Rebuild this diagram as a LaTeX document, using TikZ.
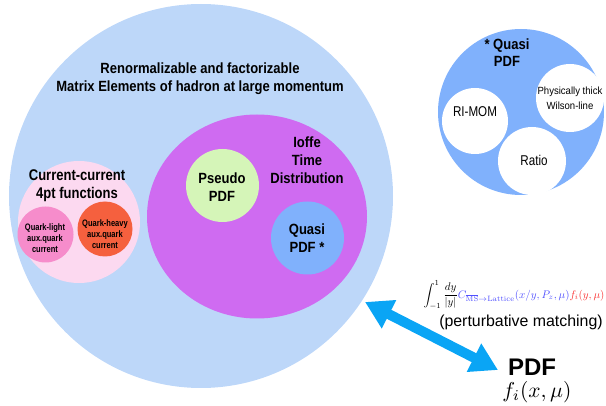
\documentclass[tikz,border=0pt]{standalone}
\usepackage[no-math]{fontspec}
\setmainfont{Liberation Sans}
\newfontfamily\condA[FakeStretch=0.88]{Liberation Sans}
\newfontfamily\condB[FakeStretch=0.84]{Liberation Sans}
\newfontfamily\condC[FakeStretch=0.80]{Liberation Sans}
\newfontfamily\condD[FakeStretch=0.82]{Liberation Sans}
\newfontfamily\condE[FakeStretch=0.92]{Liberation Sans}
\usetikzlibrary{arrows.meta,shapes.geometric}
\definecolor{bigblue}{RGB}{189,215,249}
\definecolor{purp}{RGB}{207,107,241}
\definecolor{pgreen}{RGB}{213,245,184}
\definecolor{qblue}{RGB}{128,177,252}
\definecolor{lpink}{RGB}{252,217,240}
\definecolor{qlpink}{RGB}{246,140,203}
\definecolor{qhred}{RGB}{245,96,62}
\definecolor{arrblue}{RGB}{10,165,245}
\definecolor{fblue}{RGB}{80,80,255}
\definecolor{fred}{RGB}{250,50,50}
\tikzset{
  disk/.style={circle, inner sep=0pt, draw=none},
  blbl/.style={font=\condA\fontsize{14.8}{18}\selectfont\bfseries, align=center, inner sep=0pt},
  slbl/.style={font=\condC\fontsize{9.4}{11}\selectfont\bfseries, align=center, inner sep=0pt},
  rlbl/.style={font=\condD\fontsize{14.2}{14}\selectfont, align=center, inner sep=0pt},
}
\begin{document}
\begin{tikzpicture}[x=1pt,y=-1pt]
\useasboundingbox (0,0) rectangle (606,406);
% big circle
\node[disk, fill=bigblue, minimum size=384pt] (big) at (201,196) {};
\node[blbl] (title) at (200,79) {Renormalizable and factorizable\\Matrix Elements of hadron at large momentum};
% current-current
\node[disk, fill=lpink, minimum size=122pt] (cc) at (79,222) {};
\node[blbl, font=\condB\fontsize{15.5}{18}\selectfont\bfseries] (cctxt) at (77,186) {Current-current\\4pt functions};
\node[disk, fill=qlpink, minimum size=56pt] (ql) at (45.5,234.5) {};
\node[disk, fill=qhred, minimum size=55pt] (qh) at (105,229) {};
\node[slbl] (qltxt) at (45,238) {Quark-light\\aux.quark\\current};
\node[slbl] (qhtxt) at (105,234) {Quark-heavy\\aux.quark\\current};
% Ioffe
\node[ellipse, inner sep=0pt, fill=purp, minimum width=220pt, minimum height=204pt] (itd) at (257,216.5) {};
\node[blbl] (itdtxt) at (307,160) {Ioffe\\Time\\Distribution};
\node[disk, fill=pgreen, minimum size=73pt] (pseudo) at (222.5,185.5) {};
\node[blbl] (pseudotxt) at (222,187) {Pseudo\\PDF};
\node[disk, fill=qblue, minimum size=73pt] (quasi) at (307.5,238) {};
\node[blbl] (quasitxt) at (307,238.5) {Quasi\\PDF *};
% top right
\node[disk, fill=qblue, minimum size=166pt] (tq) at (521,112) {};
\node[blbl, font=\condA\fontsize{14.8}{17}\selectfont\bfseries] (tqtxt) at (507,53) {* Quasi\\PDF};
\node[disk, fill=white, minimum size=66pt] (rimom) at (475,121) {};
\node[disk, fill=white, minimum size=68pt] (phys) at (570,98) {};
\node[disk, fill=white, minimum size=68pt] (ratio) at (532,161) {};
\node[rlbl] (rimomtxt) at (475,112) {RI-MOM};
\node[rlbl, font=\condE\fontsize{10.4}{15}\selectfont] (phystxt) at (570,98.5) {Physically thick\\Wilson-line};
\node[rlbl] (ratiotxt) at (534,160) {Ratio};
% matching
\node[inner sep=0pt] (formula) at (514,295) {\resizebox{181pt}{!}{$\displaystyle\int_{-1}^{1}\frac{dy}{|y|}\textcolor{fblue}{C_{\overline{\mathrm{MS}}\to\mathrm{Lattice}}(x/y,P_z,\mu)}\textcolor{fred}{f_i(y,\mu)}$}};
\node[inner sep=0pt, font=\fontsize{15.9}{18}\selectfont] (pm) at (521,322) {(perturbative matching)};
\node[inner sep=0pt, font=\fontsize{24}{28}\selectfont\bfseries] (pdf) at (532,367) {PDF};
\node[inner sep=0pt] (fi) at (537,392) {\scalebox{2.15}{$f_i(x,\mu)$}};
% arrow
\coordinate (aL) at (365,302);
\coordinate (aR) at (498,370);
\draw[arrblue, line width=10pt, {Triangle[width=30pt,length=27pt]}-{Triangle[width=30pt,length=27pt]}] (aL) -- (aR);
\end{tikzpicture}
\end{document}
